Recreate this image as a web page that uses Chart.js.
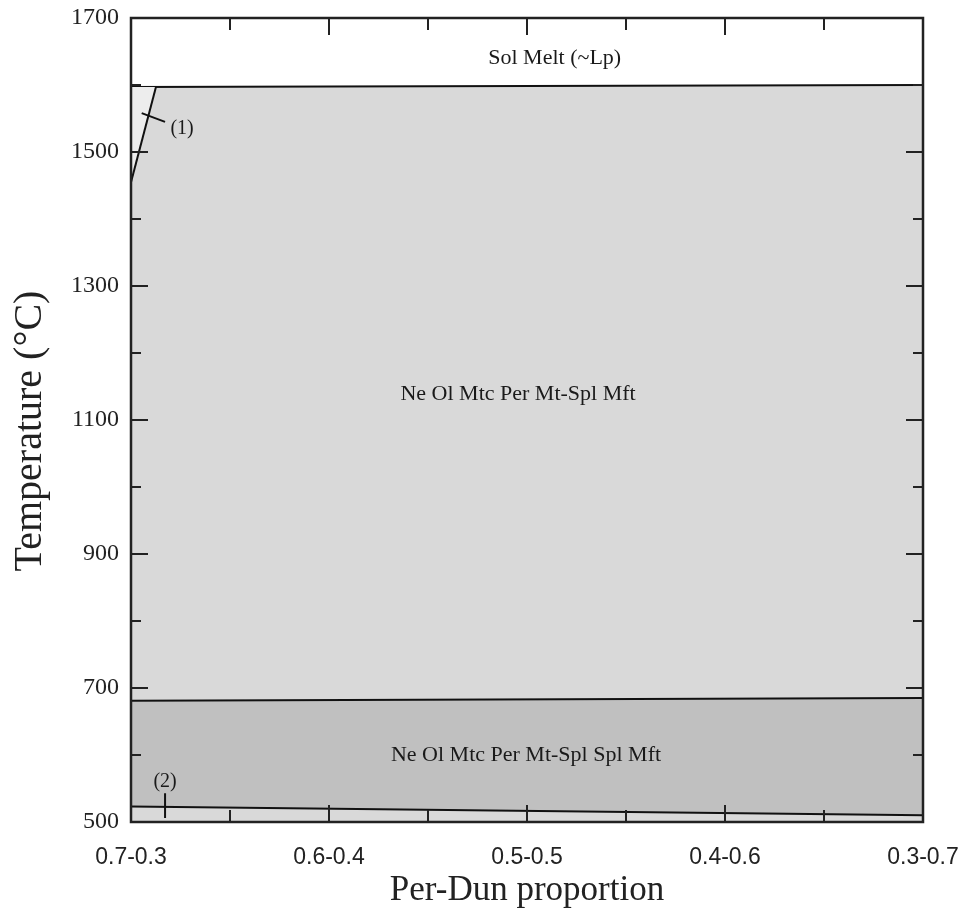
<!DOCTYPE html>
<html>
<head>
<meta charset="utf-8">
<script src="https://cdn.jsdelivr.net/npm/chart.js@4.4.1/dist/chart.umd.min.js"></script>
<style>
  html, body { margin: 0; padding: 0; background: #fff; }
  #wrap { width: 969px; height: 912px; }
</style>
</head>
<body>
<div id="wrap"><canvas id="phase"></canvas></div>
<script>
// Per-Dun proportion (Per fraction), axis runs 0.7 -> 0.3
const edgeX = [0.7, 0.3];

// boundary temperatures at each edge
const meltT = [1597, 1600];     // Sol Melt boundary
const spinelT = [681, 685];     // Spl-in boundary
const lowT = [523, 510];        // reaction (2)

// reaction (1), near left edge
const reaction1X = [0.7, 0.6874];
const reaction1T = [1455, 1597];
const region1X = [0.7, 0.6874, 0.7];
const region1T = [1455, 1597, 1597];
const leader1X = [0.6946, 0.6828];
const leader1T = [1558, 1545];
const mark2X = [0.6828, 0.6828];
const mark2T = [543, 506];

// field labels
const fieldNames = ["Sol Melt (~Lp)", "Ne Ol Mtc Per Mt-Spl Mft", "Ne Ol Mtc Per Mt-Spl Spl Mft"];
const fieldX = [0.486, 0.5045, 0.5005];
const fieldT = [1640, 1139, 599];
const noteNames = ["(1)", "(2)"];
const noteX = [0.6742, 0.6828];
const noteT = [1534, 560];

const SERIF = "'Liberation Serif', 'Times New Roman', serif";
const SANS = "'Liberation Sans', Arial, sans-serif";

function pts(xs, ys) {
  return xs.map((x, i) => ({ x: x, y: ys[i] }));
}

function lineSet(xs, ys, extra) {
  return Object.assign({
    data: pts(xs, ys),
    borderColor: "#111",
    borderWidth: 2,
    pointRadius: 0,
    fill: false,
    tension: 0
  }, extra || {});
}

function isMajorX(v) {
  return Math.abs(v * 10 - Math.round(v * 10)) < 1e-6;
}

function isMajorY(v) {
  return Math.round(v - 500) % 200 === 0;
}

// no automatic label padding, chart area comes from layout padding only
function noAutoPad(scale) {
  scale.paddingTop = 0;
  scale.paddingBottom = 0;
  scale.paddingLeft = 0;
  scale.paddingRight = 0;
}

// inward tick marks on all four sides + frame
const frameTicks = {
  id: "frameTicks",
  afterDraw(chart) {
    const ctx = chart.ctx;
    const a = chart.chartArea;
    const xs = chart.scales.x;
    const ys = chart.scales.y;
    ctx.save();
    ctx.strokeStyle = "#222";
    ctx.lineWidth = 2;
    xs.ticks.forEach((t) => {
      const px = Math.round(xs.getPixelForValue(t.value));
      const len = isMajorX(t.value) ? 17 : 12;
      ctx.beginPath();
      ctx.moveTo(px, a.bottom);
      ctx.lineTo(px, a.bottom - len);
      ctx.moveTo(px, a.top);
      ctx.lineTo(px, a.top + len);
      ctx.stroke();
    });
    ys.ticks.forEach((t) => {
      const py = Math.round(ys.getPixelForValue(t.value));
      const len = isMajorY(t.value) ? 17 : 10;
      ctx.beginPath();
      ctx.moveTo(a.left, py);
      ctx.lineTo(a.left + len, py);
      ctx.moveTo(a.right, py);
      ctx.lineTo(a.right - len, py);
      ctx.stroke();
    });
    ctx.lineWidth = 2.5;
    ctx.strokeRect(a.left, a.top, a.right - a.left, a.bottom - a.top);

    // axis titles
    ctx.fillStyle = "#222";
    ctx.textAlign = "center";
    ctx.textBaseline = "middle";
    ctx.font = "35px " + SERIF;
    ctx.fillText("Per-Dun proportion", (a.left + a.right) / 2, 891);
    ctx.translate(30, 431);
    ctx.rotate(-Math.PI / 2);
    ctx.font = "40px " + SERIF;
    ctx.fillText("Temperature (\u00B0C)", 0, 0);
    ctx.restore();
  }
};

const fieldText = {
  id: "fieldText",
  afterDatasetsDraw(chart) {
    const ctx = chart.ctx;
    const xs = chart.scales.x;
    const ys = chart.scales.y;
    ctx.save();
    ctx.fillStyle = "#1a1a1a";
    ctx.textAlign = "center";
    ctx.textBaseline = "middle";
    ctx.font = "22px " + SERIF;
    fieldNames.forEach((name, i) => {
      ctx.fillText(name, xs.getPixelForValue(fieldX[i]), ys.getPixelForValue(fieldT[i]));
    });
    ctx.font = "20px " + SERIF;
    noteNames.forEach((name, i) => {
      ctx.fillText(name, xs.getPixelForValue(noteX[i]), ys.getPixelForValue(noteT[i]));
    });
    ctx.restore();
  }
};

new Chart(document.getElementById("phase"), {
  type: "line",
  data: {
    datasets: [
      lineSet(leader1X, leader1T),
      lineSet(mark2X, mark2T),
      lineSet(reaction1X, reaction1T),
      lineSet(region1X, region1T, { borderWidth: 0, fill: "shape", backgroundColor: "#ededed" }),
      lineSet(edgeX, lowT, { fill: "start", backgroundColor: "#d9d9d9" }),
      lineSet(edgeX, spinelT, { fill: "start", backgroundColor: "#c0c0c0" }),
      lineSet(edgeX, meltT, { fill: "start", backgroundColor: "#d9d9d9" })
    ]
  },
  options: {
    responsive: true,
    maintainAspectRatio: false,
    animation: false,
    layout: { padding: { top: 18, right: 46, left: 0, bottom: 0 } },
    plugins: {
      legend: { display: false },
      tooltip: { enabled: false }
    },
    scales: {
      x: {
        type: "linear",
        reverse: true,
        min: 0.3,
        max: 0.7,
        border: { display: false },
        grid: { display: false, drawTicks: false },
        afterFit: (scale) => { scale.height = 90; noAutoPad(scale); },
        ticks: {
          stepSize: 0.05,
          padding: 22,
          maxRotation: 0,
          autoSkip: false,
          color: "#222",
          font: { family: SANS, size: 23 },
          callback: (v) => isMajorX(v) ? v.toFixed(1) + "-" + (1 - v).toFixed(1) : ""
        }
      },
      y: {
        type: "linear",
        min: 500,
        max: 1700,
        border: { display: false },
        grid: { display: false, drawTicks: false },
        afterFit: (scale) => { scale.width = 131; noAutoPad(scale); },
        ticks: {
          stepSize: 100,
          padding: 12,
          autoSkip: false,
          color: "#222",
          font: { family: SERIF, size: 24 },
          callback: (v) => isMajorY(v) ? String(v) : ""
        }
      }
    }
  },
  plugins: [fieldText, frameTicks]
});
</script>
</body>
</html>
